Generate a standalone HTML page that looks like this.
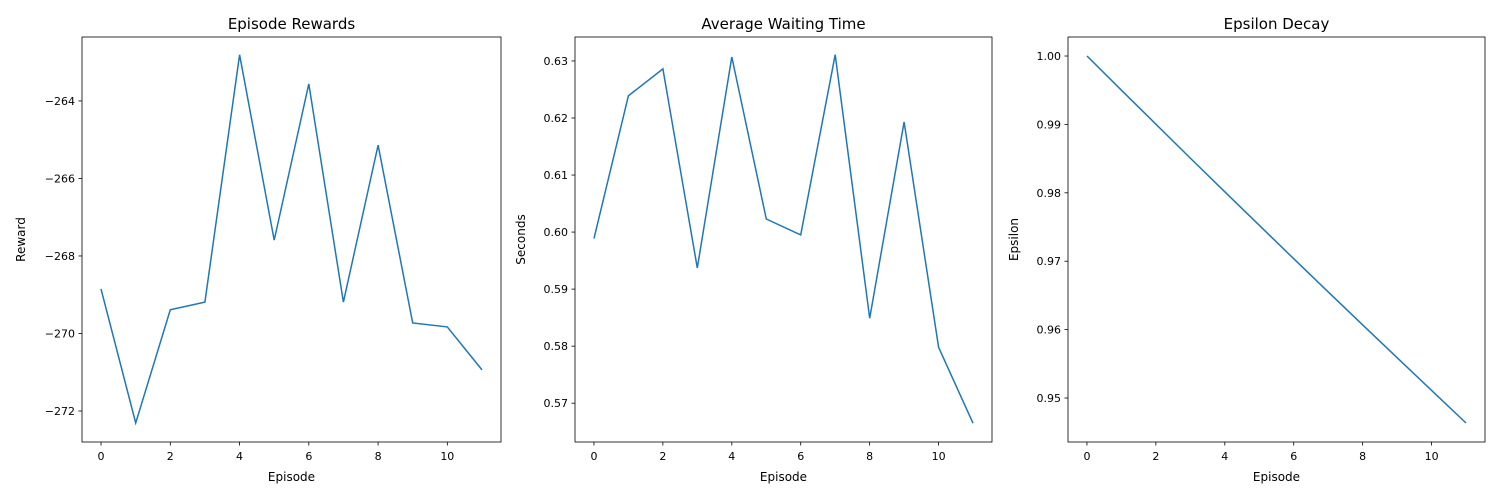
<!DOCTYPE html>
<html><head><meta charset="utf-8"><style>
body{margin:0;background:#fff;}
svg{display:block;font-family:"DejaVu Sans","Liberation Sans",sans-serif;}
</style></head><body>
<svg id="chart" width="1500" height="500" xmlns="http://www.w3.org/2000/svg"></svg>
<script>
const episodes = [0,1,2,3,4,5,6,7,8,9,10,11];
const rewards = [-268.85,-272.31,-269.39,-269.19,-262.81,-267.59,-263.56,-269.19,-265.14,-269.73,-269.83,-270.94];
const waiting = [0.5989,0.6239,0.6286,0.5937,0.6307,0.6023,0.5995,0.6311,0.5849,0.6193,0.5798,0.5665];
const epsilon = [1.0,0.995,0.990025,0.985075,0.98015,0.975249,0.970373,0.96552,0.960693,0.95589,0.95111,0.946355];
const xTicks = [0,2,4,6,8,10];
const rewardTicks = [-272,-270,-268,-266,-264];
const waitTicks = [0.57,0.58,0.59,0.60,0.61,0.62,0.63];
const epsTicks = [0.95,0.96,0.97,0.98,0.99,1.00];

const svgRoot = document.getElementById('chart');
const NS = 'http://www.w3.org/2000/svg';
function mk(tag, attrs, parent){const e=document.createElementNS(NS,tag);for(const k in attrs)e.setAttribute(k,attrs[k]);(parent||svgRoot).appendChild(e);return e;}

const panels = [
 {name:'rewards',title:'Episode Rewards',ylabel:'Reward',x0:82,x1:501,ymin:-272.8,ymax:-262.35,data:rewards,ticks:rewardTicks,fmt:v=>(v<0?'\u2212':'')+Math.abs(v).toFixed(0),ylx:25},
 {name:'waiting',title:'Average Waiting Time',ylabel:'Seconds',x0:575,x1:992,ymin:0.5632,ymax:0.6342,data:waiting,ticks:waitTicks,fmt:v=>v.toFixed(2),ylx:525},
 {name:'epsilon',title:'Epsilon Decay',ylabel:'Epsilon',x0:1068,x1:1485,ymin:0.94357,ymax:1.00278,data:epsilon,ticks:epsTicks,fmt:v=>v.toFixed(2),ylx:1018}
];
const yTop=37,yBot=442;
panels.forEach(p=>{
  const g=mk('g',{});
  
  
  const xs=v=>p.x0+(v+0.55)/12.1*(p.x1-p.x0);
  const ys=v=>yBot-(v-p.ymin)/(p.ymax-p.ymin)*(yBot-yTop);
  const fr=mk('rect',{x:p.x0,y:yTop,width:p.x1-p.x0,height:yBot-yTop,fill:'none',stroke:'#000','stroke-width':0.8},g);
  
  
  xTicks.forEach(t=>{
    const x=xs(t);
    mk('line',{x1:x,x2:x,y1:yBot,y2:yBot+3.5,stroke:'#000','stroke-width':0.8},g);
    const tx=mk('text',{x:x,y:yBot+18,'font-size':11,'text-anchor':'middle',fill:'#000'},g);
    tx.textContent=t;
    
    
  });
  p.ticks.forEach(t=>{
    const y=ys(t);
    mk('line',{x1:p.x0-3.5,x2:p.x0,y1:y,y2:y,stroke:'#000','stroke-width':0.8},g);
    const tx=mk('text',{x:p.x0-7,y:y+4,'font-size':11,'text-anchor':'end',fill:'#000'},g);
    tx.textContent=p.fmt(t);
    
    
  });
  const pts=episodes.map((e,i)=>xs(e).toFixed(1)+','+ys(p.data[i]).toFixed(1)).join(' ');
  const ln=mk('polyline',{points:pts,fill:'none',stroke:'#1f77b4','stroke-width':1.5},g);
  
  
  const ti=mk('text',{x:(p.x0+p.x1)/2,y:29,'font-size':15,'text-anchor':'middle',fill:'#000'},g);
  ti.textContent=p.title;
  
  
  const xl=mk('text',{x:(p.x0+p.x1)/2,y:481,'font-size':12,'text-anchor':'middle',fill:'#000'},g);
  xl.textContent='Episode';
  
  
  const cy=(yTop+yBot)/2;
  const yl=mk('text',{x:p.ylx,y:cy,'font-size':12,'text-anchor':'middle',fill:'#000',transform:`rotate(-90 ${p.ylx} ${cy})`},g);
  yl.textContent=p.ylabel;
  
  
});
</script>
</body></html>
